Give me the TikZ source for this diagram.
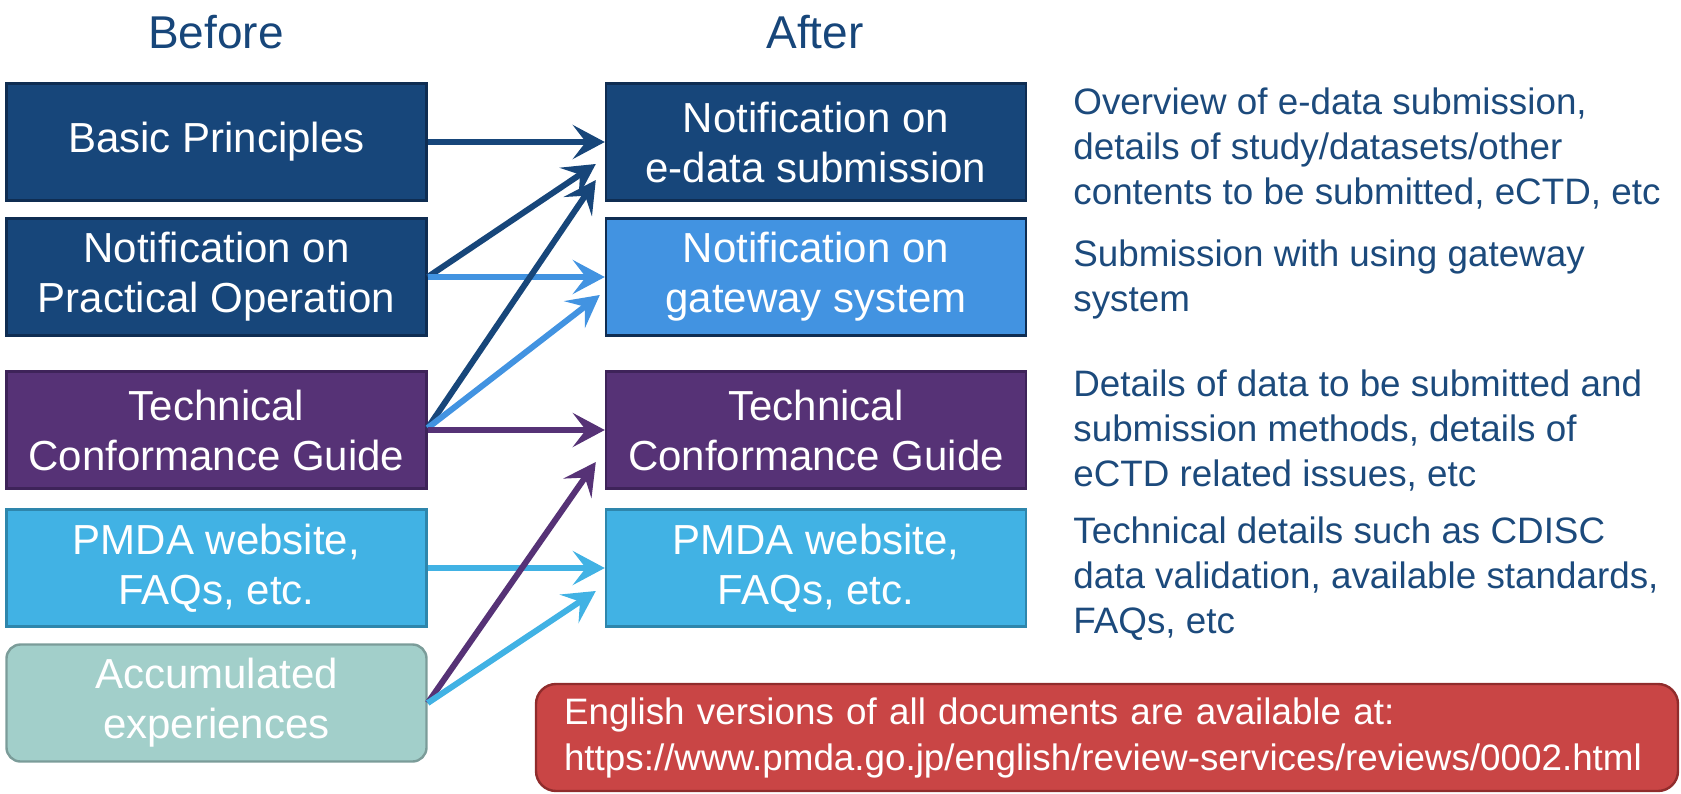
\documentclass[tikz,border=0pt]{standalone}
\usepackage{fontspec}
\setmainfont{Liberation Sans}
\usetikzlibrary{arrows.meta,calc}
\definecolor{navy}{HTML}{17467A}
\definecolor{navyd}{HTML}{0F2D52}
\definecolor{gwblue}{HTML}{4293E1}
\definecolor{purp}{HTML}{563276}
\definecolor{purpd}{HTML}{3E2359}
\definecolor{cyanb}{HTML}{41B2E4}
\definecolor{cyand}{HTML}{2E86AC}
\definecolor{tealb}{HTML}{A2CFCA}
\definecolor{teald}{HTML}{7B9C99}
\definecolor{redb}{HTML}{C94545}
\definecolor{redd}{HTML}{902C2C}
\definecolor{descblue}{HTML}{1C4A7C}
\begin{document}
\begin{tikzpicture}[x=0.5pt,y=-0.5pt,
  box/.style={minimum width=210pt, minimum height=58.5pt, inner sep=0pt, align=center, text=white, font=\fontsize{21}{25}\selectfont, line width=1.2pt},
  arr/.style={line width=3pt, -{Stealth[length=16pt,width=17pt,inset=6.5pt]}},
  desc/.style={anchor=west, inner sep=0pt, align=left, text=descblue, font=\fontsize{18.4}{22.5}\selectfont},
  hdr/.style={text=navy, font=\fontsize{23}{27}\selectfont}]
\useasboundingbox (0,0) rectangle (1681,793);
% headers
\node[hdr] (before) at (216,32) {Before};
\node[hdr] (after) at (815,32) {After};
% left column
\node[box, fill=navy, draw=navyd] (bp) at (216.5,142) {Basic Principles};
\node[box, fill=navy, draw=navyd] (po) at (216.5,277) {Notification on\\Practical Operation};
\node[box, fill=purp, draw=purpd] (tl) at (216.5,430) {Technical\\Conformance Guide};
\node[box, fill=cyanb, draw=cyand] (pl) at (216.5,568) {PMDA website,\\FAQs, etc.};
\node[box, fill=tealb, draw=teald, rounded corners=7pt] (ac) at (216.5,703) {Accumulated\\experiences};
% right column
\node[box, fill=navy, draw=navyd] (ed) at (816,142) {Notification on\\e-data submission};
\node[box, fill=gwblue, draw=navyd] (gw) at (816,277) {Notification on\\gateway system};
\node[box, fill=purp, draw=purpd] (tr) at (816,430) {Technical\\Conformance Guide};
\node[box, fill=cyanb, draw=cyand] (pr) at (816,568) {PMDA website,\\FAQs, etc.};
% descriptions
\node[desc] (d1) at (1073,149) {Overview of e-data submission,\\details of study/datasets/other\\contents to be submitted, eCTD, etc};
\node[desc] (d2) at (1073,279) {Submission with using gateway\\system};
\node[desc] (d3) at (1073,431) {Details of data to be submitted and\\submission methods, details of\\eCTD related issues, etc};
\node[desc] (d4) at (1073,579) {Technical details such as CDISC\\data validation, available standards,\\FAQs, etc};
% note
\node[fill=redb, draw=redd, line width=1.2pt, rounded corners=10pt, minimum height=53.5pt, text width=543pt, inner xsep=14pt, align=left, text=white, font=\fontsize{18.4}{23}\selectfont] (note) at (1107,737.5) {English versions of all documents are available at:\\https://www.pmda.go.jp/english/review-services/reviews/0002.html};
% arrows
\draw[arr, navy] (bp.east) -- (ed.west);
\draw[arr, navy] (po.east) -- ($(ed.west)+(-9,22)$);
\draw[arr, gwblue] (po.east) -- (gw.west);
\draw[arr, navy] ($(tl.east)+(0,-2)$) -- ($(ed.west)+(-9,38)$);
\draw[arr, gwblue] ($(tl.east)+(0,-2)$) -- ($(gw.west)+(-5,18)$);
\draw[arr, purp] (tl.east) -- (tr.west);
\draw[arr, cyanb] (pl.east) -- (pr.west);
\draw[arr, purp] (ac.east) -- ($(tr.west)+(-9,32)$);
\draw[arr, cyanb] (ac.east) -- ($(pr.west)+(-9,23)$);
\end{tikzpicture}
\end{document}
